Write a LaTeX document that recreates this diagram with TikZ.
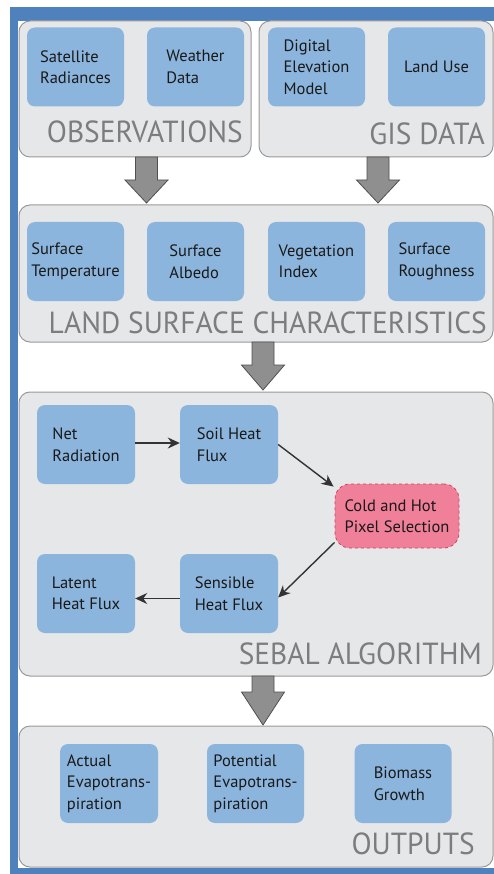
\documentclass[tikz,border=0pt]{standalone}
\usepackage{fontspec}
\setmainfont{PT Sans}
\newfontfamily\paneltitlefont[FakeStretch=0.965]{PT Sans}
\usetikzlibrary{arrows.meta}
\definecolor{frameblue}{HTML}{4F81BD}
\definecolor{panelfill}{HTML}{E6E7E9}
\definecolor{paneldraw}{HTML}{9A9A9A}
\definecolor{boxblue}{HTML}{8CB5DD}
\definecolor{pinkfill}{HTML}{F08099}
\definecolor{pinkdraw}{HTML}{D2405C}
\definecolor{titlegray}{HTML}{7D7D7D}
\definecolor{arrowfill}{HTML}{8F8F8F}
\definecolor{arrowdraw}{HTML}{505050}
\definecolor{linkcol}{HTML}{333333}
\tikzset{
  panel/.style={draw=paneldraw, line width=1pt, fill=panelfill, rounded corners=11pt, inner sep=0pt},
  bluebox/.style={fill=boxblue, rounded corners=8pt, minimum width=97pt, minimum height=79pt,
    inner sep=0pt, align=left, font=\fontsize{16.5}{21.5}\selectfont, text=black!90},
  pinkbox/.style={fill=pinkfill, draw=pinkdraw, dashed, line width=0.8pt, rounded corners=15pt,
    minimum width=124pt, minimum height=64pt, inner sep=0pt, align=left,
    font=\fontsize{16.5}{21.5}\selectfont, text=black!90},
  paneltitle/.style={anchor=base east, inner sep=0pt, text=titlegray, font=\paneltitlefont\fontsize{30.5}{31}\selectfont},
  blockarrow/.style={draw=arrowdraw, fill=arrowfill, line width=0.8pt, line join=miter},
  link/.style={draw=linkcol, line width=1.4pt, -{Stealth[length=12pt,width=11pt]}}
}
% vertical block arrow: centre x, top y, head start y, tip y
\newcommand{\vblockarrow}[4]{%
  \draw[blockarrow] ({#1-11},#2) -- ({#1+11},#2) -- ({#1+11},#3) -- ({#1+21.5},#3)
    -- (#1,#4) -- ({#1-21.5},#3) -- ({#1-11},#3) -- cycle;}
\begin{document}
\begin{tikzpicture}[x=1pt,y=-1pt]
\useasboundingbox (0,0) rectangle (494,874);
\fill[white] (0,0) rectangle (494,874);
\fill[frameblue] (10,7) rectangle (494,874);
\fill[white] (18,21) rectangle (494,868);

% panels
\node[panel, minimum width=232pt, minimum height=136pt] (obs) at (135,89) {};
\node[panel, minimum width=234pt, minimum height=136pt] (gis) at (376,89) {};
\node[panel, minimum width=474pt, minimum height=137pt] (lsc) at (256,273.5) {};
\node[panel, minimum width=474pt, minimum height=284pt] (sebal) at (256,534) {};
\node[panel, minimum width=474pt, minimum height=141pt] (outp) at (256,796.5) {};

% panel titles
\node[paneltitle] (tobs) at (243,143) {OBSERVATIONS};
\node[paneltitle] (tgis) at (485,145) {GIS DATA};
\node[paneltitle] (tlsc) at (487,333) {LAND SURFACE CHARACTERISTICS};
\node[paneltitle] (tsebal) at (482,664) {SEBAL ALGORITHM};
\node[paneltitle] (toutp) at (475,854) {OUTPUTS};

% observations / gis
\node[bluebox] (sat) at (75.5,67) {Satellite\\Radiances};
\node[bluebox] (wea) at (195.5,67) {Weather\\Data};
\node[bluebox] (dem) at (316.5,67) {Digital\\Elevation\\Model};
\node[bluebox] (lu) at (436.5,67) {Land Use};

% land surface characteristics
\node[bluebox] (st) at (75.5,261.5) {Surface\\Temperature};
\node[bluebox] (sa) at (195.5,261.5) {Surface\\Albedo};
\node[bluebox] (vi) at (316.5,261.5) {Vegetation\\Index};
\node[bluebox] (sr) at (436.5,261.5) {Surface\\Roughness};

% sebal
\node[bluebox, minimum width=98pt] (net) at (86,444.5) {Net\\Radiation};
\node[bluebox, minimum width=98pt] (soil) at (229,444.5) {Soil Heat\\Flux};
\node[pinkbox] (cold) at (397,516) {Cold and Hot\\Pixel Selection};
\node[bluebox, minimum width=98pt] (lat) at (86,593.5) {Latent\\Heat Flux};
\node[bluebox, minimum width=98pt] (sens) at (229,593.5) {Sensible\\Heat Flux};

% outputs
\node[bluebox, minimum width=98pt] (aet) at (109,783.5) {Actual\\Evapotrans-\\piration};
\node[bluebox] (pet) at (255.5,783.5) {Potential\\Evapotrans-\\piration};
\node[bluebox] (bio) at (403,783.5) {Biomass\\Growth};

% block arrows between panels
\vblockarrow{146.5}{157}{180}{203}
\vblockarrow{378}{157}{180}{203}
\vblockarrow{263}{342}{365}{390}
\vblockarrow{263}{676}{692}{725}

% links
\draw[link] (net.east |- 0,443) -- (soil.west |- 0,443);
\draw[link] (soil.east) -- ([xshift=-1pt,yshift=-3pt]cold.north west);
\draw[link] ([yshift=6pt]cold.south west) -- ([yshift=-4pt]sens.east);
\draw[link] ([yshift=-5pt]sens.west) -- ([yshift=-5pt]lat.east);
\end{tikzpicture}
\end{document}
